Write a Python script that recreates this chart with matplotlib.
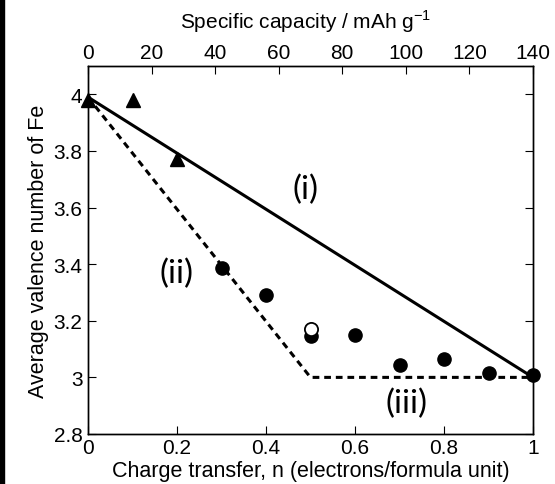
import numpy as np
import matplotlib.pyplot as plt
from matplotlib.patches import Rectangle

plt.rcParams['font.family'] = ['Liberation Sans', 'DejaVu Sans']
plt.rcParams['mathtext.fontset'] = 'custom'
plt.rcParams['mathtext.rm'] = 'Liberation Sans'

# measured points
tri_n = [0.0, 0.1, 0.2]
tri_v = [3.98, 3.98, 3.77]
circ_n = [0.3, 0.4, 0.5, 0.6, 0.7, 0.8, 0.9, 1.0]
circ_v = [3.385, 3.29, 3.145, 3.15, 3.045, 3.065, 3.015, 3.01]
open_n = [0.5]
open_v = [3.17]

# model lines
line_i_n = [0.0, 1.0]
line_i_v = [3.99, 3.0]
line_ii_n = [0.0, 0.5, 1.0]
line_ii_v = [3.99, 3.0, 3.0]

xticks = [0, 0.2, 0.4, 0.6, 0.8, 1]
xticklabels = ['0', '0.2', '0.4', '0.6', '0.8', '1']
yticks = [2.8, 3.0, 3.2, 3.4, 3.6, 3.8, 4.0]
yticklabels = ['2.8', '3', '3.2', '3.4', '3.6', '3.8', '4']
cap_ticks = [0, 20, 40, 60, 80, 100, 120, 140]

fig = plt.figure(figsize=(5.55, 4.85), dpi=100)
ax = fig.add_axes([88 / 555, 50 / 485, 445 / 555, 368 / 485])

ax.plot(line_i_n, line_i_v, color='black', lw=2.2, solid_capstyle='butt')
ax.plot(line_ii_n, line_ii_v, color='black', lw=2.2, ls=(0, (2.2, 1.6)))
ax.plot(tri_n, tri_v, '^', color='black', ms=10.5, clip_on=False)
ax.plot(circ_n, circ_v, 'o', color='black', ms=9.5, clip_on=False)
ax.plot(open_n, open_v, 'o', mfc='white', mec='black', mew=1.3, ms=9.5)

ax.text(0.489, 3.665, '(i)', fontsize=24, family='Lato', ha='center', va='center')
ax.text(0.198, 3.368, '(ii)', fontsize=24, family='Lato', ha='center', va='center')
ax.text(0.715, 2.91, '(iii)', fontsize=24, family='Lato', ha='center', va='center')

ax.set_xlim(0, 1)
ax.set_ylim(2.8, 4.1)
ax.set_xticks(xticks)
ax.set_xticklabels(xticklabels)
ax.set_yticks(yticks)
ax.set_yticklabels(yticklabels)
ax.tick_params(direction='in', length=6, labelsize=15, right=True, pad=4)
ax.tick_params(axis='x', top=False, pad=3)
ax.set_xlabel('Charge transfer, n (electrons/formula unit)', fontsize=15.5)
ax.set_ylabel('Average valence number of Fe', fontsize=15.5, labelpad=3)
ax.xaxis.set_label_coords(0.5, -0.072)

ax2 = ax.twiny()
ax2.set_xlim(0, 140)
ax2.set_xticks(cap_ticks)
ax2.tick_params(direction='in', length=6, labelsize=15, pad=3)
ax2.set_xlabel('Specific capacity / mAh g$^{\\mathregular{-1}}$', fontsize=15)
ax2.xaxis.set_label_coords(0.49, 1.105)

for a in (ax, ax2):
    for s in a.spines.values():
        s.set_linewidth(1.0)

fig.patches.append(Rectangle((0, 0), 4 / 555, 1, transform=fig.transFigure,
                             color='black', zorder=10))

fig.savefig('out.png', dpi=100)
